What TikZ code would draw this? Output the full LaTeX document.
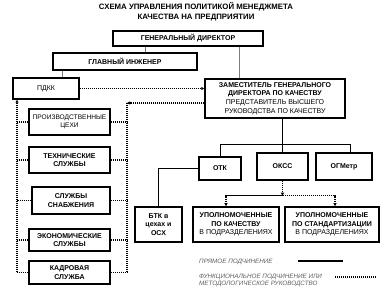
\documentclass[tikz,border=0pt]{standalone}
\usepackage{fontspec}
\setmainfont{Liberation Sans}
\usepackage{tikz}
\usetikzlibrary{arrows.meta,calc}
\definecolor{linkgray}{RGB}{125,125,125}
\definecolor{notegray}{RGB}{95,95,95}

\begin{document}
\begin{tikzpicture}[
  x=1pt, y=-1pt,
  font=\fontsize{7}{8.6}\selectfont,
  box/.style={draw, line width=1.5pt, align=center, inner sep=0pt},
  bx/.style={box, font=\fontsize{7}{8.6}\selectfont\bfseries},
  ln/.style={line width=0.8pt},
  dt/.style={line width=1.1pt, dash pattern=on 1.1pt off 0.9pt},
  tip/.style={-{Triangle[length=3pt,width=3pt]}},
  note/.style={font=\fontsize{6.3}{7.8}\selectfont\itshape, text=notegray, anchor=west, align=left, inner sep=0pt}
]
\useasboundingbox (0,0) rectangle (392,294);

\node[font=\fontsize{7.8}{10}\selectfont\bfseries, align=center] (title) at (196,12)
  {СХЕМА УПРАВЛЕНИЯ ПОЛИТИКОЙ МЕНЕДЖМЕТА\\КАЧЕСТВА НА ПРЕДПРИЯТИИ};

\node[bx, minimum width=150, minimum height=15] (gd) at (188,38.5) {ГЕНЕРАЛЬНЫЙ ДИРЕКТОР};
\node[bx, minimum width=144, minimum height=17] (gi) at (125,61.5) {ГЛАВНЫЙ ИНЖЕНЕР};
\node[box, minimum width=66, minimum height=21] (pdkk) at (46,88.5) {ПДКК};
\node[box, minimum width=140, minimum height=39] (dep) at (275,98.5)
  {\textbf{ЗАМЕСТИТЕЛЬ ГЕНЕРАЛЬНОГО}\\\textbf{ДИРЕКТОРА ПО КАЧЕСТВУ}\\ПРЕДСТАВИТЕЛЬ ВЫСШЕГО\\РУКОВОДСТВА ПО КАЧЕСТВУ};

\node[box, minimum width=81, minimum height=26, font=\fontsize{6.6}{8}\selectfont] (proizv) at (69.5,122) {ПРОИЗВОДСТВЕННЫЕ\\ЦЕХИ};
\node[bx, minimum width=81, minimum height=26] (tech) at (69.5,160) {ТЕХНИЧЕСКИЕ\\СЛУЖБЫ};
\node[bx, minimum width=78, minimum height=27] (snab) at (71,200.5) {СЛУЖБЫ\\СНАБЖЕНИЯ};
\node[bx, minimum width=81, minimum height=22] (econ) at (69.5,240) {ЭКОНОМИЧЕСКИЕ\\СЛУЖБЫ};
\node[bx, minimum width=81, minimum height=23] (kadr) at (69.5,272.5) {КАДРОВАЯ\\СЛУЖБА};

\node[bx, minimum width=42, minimum height=23] (otk) at (220,168.5) {ОТК};
\node[bx, minimum width=51, minimum height=27] (okss) at (282.5,166.5) {ОКСС};
\node[bx, minimum width=56, minimum height=27] (ogm) at (344,166.5) {ОГМетр};

\node[bx, minimum width=47, minimum height=35] (btk) at (158.5,224.5) {БТК в\\цехах и\\ОСХ};
\node[box, minimum width=86, minimum height=35] (up1) at (236,224.5)
  {\textbf{УПОЛНОМОЧЕННЫЕ}\\\textbf{ПО КАЧЕСТВУ}\\В ПОДРАЗДЕЛЕНИЯХ};
\node[box, minimum width=94, minimum height=35] (up2) at (332,224.5)
  {\textbf{УПОЛНОМОЧЕННЫЕ}\\\textbf{ПО СТАНДАРТИЗАЦИИ}\\В ПОДРАЗДЕЛЕНИЯХ};

\node[note] (leg1) at (199,262) {ПРЯМОЕ ПОДЧИНЕНИЕ};
\node[note] (leg2) at (199,280.5) {ФУНКЦИОНАЛЬНОЕ ПОДЧИНЕНИЕ ИЛИ\\МЕТОДОЛОГИЧЕСКОЕ РУКОВОДСТВО};
\coordinate (s1) at (298,261);
\coordinate (s2) at (343,261);
\coordinate (f1) at (335,277);
\coordinate (f2) at (376,277);
\coordinate (rtop) at (127,103);
\coordinate (ltop) at (17,103);
\coordinate (bus) at (0,144);

\draw[ln, linkgray] ($(gd.south west)!.22!(gd.south east)$) coordinate (a) -- (a |- gi.north);
\draw[ln, linkgray] ($(gd.south west)!.84!(gd.south east)$) coordinate (b) -- (b |- dep.north);
\draw[ln, linkgray] ([xshift=10pt]gi.south west) coordinate (c) -- (c |- pdkk.north);
\draw[ln] (dep.south -| okss.north) -- (okss.north);
\draw[ln] (otk.north) -- (otk.north |- bus) -| ([xshift=6pt]ogm.north);
\draw[ln] (otk.west) -| (btk.north);

\draw[dt, tip] (pdkk.east) -- (pdkk.east -| dep.west);
\draw[dt, tip] (dep.west |- rtop) -- (rtop);
\draw[dt] (rtop) -- (rtop |- kadr.east);
\draw[dt, tip] (ltop |- kadr.west) -- (ltop |- pdkk.south);
\foreach \n in {proizv,tech,snab,econ,kadr} {
  \draw[dt] (\n.east) -- (\n.east -| rtop);
  \draw[dt] (\n.west) -- (\n.west -| ltop);
}
\draw[dt, tip] (okss.south) -- ++(0,15) coordinate (sp);
\draw[dt, tip] (sp) -| ([xshift=-10pt]up1.north);
\draw[dt, tip] (sp) -| ([xshift=3pt]up2.north);

\draw[line width=1.5pt] (s1) -- (s2);
\draw[dt] (f1) -- (f2);
\end{tikzpicture}
\end{document}
